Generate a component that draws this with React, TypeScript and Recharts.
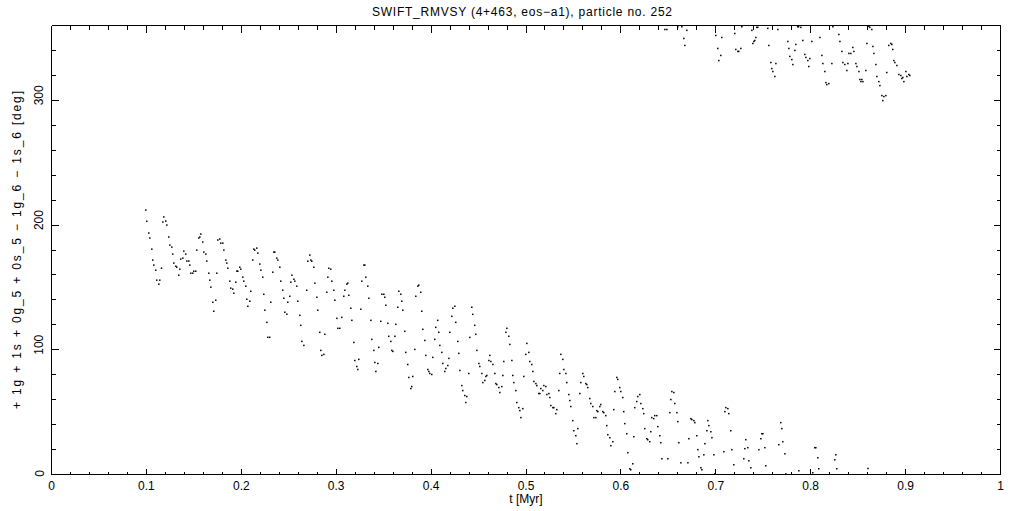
import React from 'react';
import { ScatterChart, Scatter, XAxis, YAxis } from 'recharts';

// [t (Myr), angle (deg)], grouped by region
const band1: [number, number][] = [
  [0.0994,212],[0.1004,203],[0.1025,193.6],[0.1036,189.6],[0.1057,180.7],[0.1067,171.9],[0.1078,167.9],[0.1099,163.8],[0.1109,155.8],[0.1131,152.6],[0.1141,155.8],[0.1159,165.4],[0.1173,202.4],[0.1183,206.5],[0.1204,203.2],[0.1215,200],[0.1236,190.4],[0.1247,183.9],[0.1268,182.3],[0.1278,176.7],[0.1289,169.5],[0.131,167],[0.132,166.2],[0.1341,159.8],[0.1352,164.6],[0.1362,172.7],[0.1384,173.5],[0.1394,179.1],[0.1415,176.7],[0.1426,171.1],[0.1447,171.1],[0.1457,167.9],[0.1468,161.4],[0.1489,161.4],[0.1499,163],[0.152,163],[0.1531,179.9],[0.1552,189.6],[0.1563,190.4],[0.1573,192.8],[0.1594,186.4],[0.1605,178.3],[0.1626,176.7],[0.1636,171.1],[0.1658,161.4],[0.1668,155.8],[0.1679,150.2],[0.17,138.1],[0.171,130.9],[0.1731,139.7],[0.1742,161.4],[0.1752,188],[0.1773,188.8],[0.1784,185.5],[0.1805,185.5],[0.1816,179.9],[0.1837,171.9],[0.1847,169.5],[0.1858,165.4],[0.1879,155],[0.1889,149.4],[0.191,148.6],[0.1921,145.3],[0.1942,154.2],[0.1953,163],[0.1963,163],[0.1984,166.2],[0.1995,164.6],[0.2016,158.2],[0.2026,155],[0.2047,151],[0.2058,140.5],[0.2069,134.9],[0.209,138.9],[0.21,146.9],[0.2121,171.9],[0.2132,180.7],[0.2142,179.9],[0.2163,181.5],[0.2174,177.5],[0.2195,168.7],[0.2206,163.8],[0.2226,158.2],[0.2237,144.5],[0.2248,131.7],[0.2269,122],[0.2279,110],[0.23,110],[0.2311,138.1],[0.2332,162.2],[0.2342,178.3],[0.2353,178.3],[0.2374,173.5],[0.2385,171.9],[0.2406,166.2],[0.2416,155],[0.2437,147.8],[0.2448,141.3],[0.2459,130.1],[0.248,128.5],[0.249,138.1],[0.2511,142.9],
];

const band2: [number, number][] = [
  [0.2522,154.2],[0.2533,159.8],[0.2554,156.6],[0.2564,155],[0.2585,151],[0.2595,138.9],[0.2617,127.6],[0.2627,119.6],[0.2638,106.7],[0.2659,103.5],[0.269,147.7],[0.2701,171],[0.2722,175.9],[0.2733,171.9],[0.2743,171],[0.2764,166.2],[0.2775,153.4],[0.2796,142.1],[0.2806,131.7],[0.2827,114],[0.2838,99.5],[0.2849,95.5],[0.287,96.3],[0.288,112.4],[0.2901,146.1],[0.2912,158.2],[0.2922,165.4],[0.2943,164.6],[0.2954,155],[0.2975,147.7],[0.2986,139.7],[0.3007,125.2],[0.3017,117.2],[0.3038,117.2],[0.3059,126],[0.308,142.9],[0.3091,147.7],[0.3112,152.6],[0.3122,153.4],[0.3133,143.7],[0.3154,133.3],[0.3165,123.6],[0.3186,105.9],[0.3196,91.4],[0.3217,86.6],[0.3228,84.2],[0.3238,92.3],[0.326,132.5],[0.327,155],[0.3291,167.9],[0.3302,167.9],[0.3312,158.2],[0.3333,151],[0.3344,141.3],[0.3365,123.6],[0.3375,108.3],[0.3397,99.5],[0.3407,89.8],[0.3418,82.6],[0.3439,89],[0.3449,101.9],[0.347,122.8],[0.3481,144.5],[0.3502,144.5],[0.3512,142.1],[0.3523,135.7],[0.3544,121.2],[0.3554,110.8],[0.3576,106.7],[0.3586,99.5],[0.3597,98.7],[0.3618,110.8],[0.3628,120.4],[0.3649,134.1],[0.366,146.9],[0.3681,144.5],[0.3691,138.9],[0.3702,131.7],[0.3723,114.8],[0.3733,97.9],[0.3754,88.2],[0.3765,77.8],[0.3786,68.9],[0.3796,70.5],[0.3807,78.6],[0.3828,100.3],[0.3839,142.9],[0.386,151],[0.387,151.8],[0.3891,146.1],[0.3902,130.9],[0.3913,116.4],[0.3934,107.5],[0.3944,95.5],[0.3965,84.2],[0.3976,82.6],[0.3986,81],[0.4007,80.2],[0.4018,93.9],[0.4039,108.3],[0.4049,118],[0.407,123.6],[0.4081,114],[0.4092,103.5],[0.4113,97.9],[0.4123,89],[0.4144,82.6],[0.4155,85],[0.4176,87.4],[0.4187,93.1],[0.4197,114],[0.4218,126.8],[0.4229,133.3],[0.425,134.9],[0.426,122],[0.4281,106.7],[0.4292,97.1],[0.4303,83.4],[0.4324,71.3],[0.4334,67.3],[0.4355,63.3],[0.4366,57.7],[0.4376,62.5],[0.4397,81],[0.4408,109.9],[0.4429,134.1],[0.4439,128.4],[0.446,119.6],[0.4471,112.4],[0.4482,99.5],[0.4503,89],[0.4513,86.6],
];

const band3: [number, number][] = [
  [0.4535,81],[0.4545,73.7],[0.4566,75.4],[0.4577,78.6],[0.4587,79.4],[0.4609,91.4],[0.4619,95.5],[0.463,90.6],[0.4651,88.2],[0.4672,81],[0.4682,72.9],[0.4693,72.1],[0.4714,69.7],[0.4724,65.7],[0.4745,70.5],[0.4756,79.4],[0.4766,90.6],[0.4788,114],[0.4798,117.2],[0.4819,110.8],[0.483,104.3],[0.4851,91.4],[0.4861,79.4],[0.4872,73.7],[0.4893,67.3],[0.4903,57.7],[0.4924,53.6],[0.4935,51.2],[0.4946,45.6],[0.4967,52.8],[0.4977,78.6],[0.4998,96.3],[0.5009,105.1],[0.503,97.9],[0.504,90.6],[0.5061,88.2],[0.5072,82.6],[0.5083,74.6],[0.5104,72.9],[0.5114,71.3],[0.5135,64.9],[0.5146,64.9],[0.5156,68.9],[0.5177,67.3],[0.5188,71.3],[0.5209,70.5],[0.522,64.1],[0.5241,64.9],[0.5251,61.7],[0.5262,55.3],[0.5283,53.6],[0.5293,53.6],[0.5314,48.8],[0.5325,52],[0.5346,67.3],[0.5356,81],[0.5367,96.3],[0.5388,92.3],[0.5399,84.2],[0.542,81],[0.543,73.7],[0.5451,64.1],[0.5462,59.3],[0.5472,54.5],[0.5493,43.2],[0.5504,35.1],[0.5525,31.1],[0.5536,24.7],[0.5546,36.8],[0.5567,64.9],[0.5578,73.7],[0.5599,81],[0.5609,78.6],[0.563,72.9],[0.5641,72.1],[0.5651,69.7],[0.5672,60.9],[0.5683,56.9],[0.5704,54.5],[0.5715,45.6],[0.5736,45.6],[0.5746,51.2],[0.5757,50.4],[0.5778,54.5],[0.5788,56.1],[0.5809,50.4],[0.582,49.6],[0.5841,47.2],[0.5851,39.2],[0.5862,31.9],[0.5883,29.5],[0.5894,23.1],[0.5915,26.3],[0.5925,52],[0.5936,66.5],[0.5957,77.8],[0.5967,76.2],[0.5988,69.7],[0.5999,66.5],[0.602,61.7],[0.603,50.4],[0.6041,40.8],[0.6062,32.7],[0.6073,17.5],[0.6094,4.6],[0.6104,3.8],[0.6125,8.6],[0.6136,30.3],[0.6146,53.6],[0.6167,58.5],[0.6178,62.5],[0.6199,64.1],[0.621,56.9],[0.6231,52.8],[0.6241,48.8],[0.6252,36.8],[0.6273,28.7],[0.6283,27.9],[0.6304,26.3],[0.6315,34.3],[0.6325,45.6],[0.6346,44.8],[0.6357,47.2],[0.6378,47.2],[0.6389,38.4],[0.641,31.1],
];

const band4: [number, number][] = [
  [0.6421,25.5],[0.6432,12.6],[0.6495,12.6],[0.6516,49.6],[0.6526,60.1],[0.6537,66.5],[0.6558,65.7],[0.6568,56.9],[0.659,49.6],[0.66,42.4],[0.6611,25.5],[0.6632,9.4],[0.6706,9.4],[0.6716,28.7],[0.6737,44.8],[0.6748,44],[0.6769,43.2],[0.6779,41.6],[0.68,31.1],[0.6811,19.9],[0.6822,14.2],[0.6843,5.4],[0.6853,3.8],[0.6874,15.8],[0.6885,24.7],[0.6906,35.1],[0.6916,43.2],[0.6927,39.2],[0.6948,34.3],[0.6959,29.5],[0.698,15.8],[0.699,0.5],[0.7085,18.3],[0.7095,50.4],[0.7106,53.6],[0.7127,52.8],[0.7137,48.8],[0.7158,35.1],[0.7169,19.9],[0.719,7.8],[0.7295,12.6],[0.7306,20.7],[0.7316,27.9],[0.7338,21.5],[0.7348,11],[0.7369,5.4],[0.7454,19.9],[0.7475,28.7],[0.7485,32.7],[0.7496,32.7],[0.7517,21.5],[0.7527,7],[0.7664,23.9],[0.7685,41.6],[0.7696,36.8],[0.7706,26.3],[0.7728,16.6],[0.7738,0.5],[0.7875,3],[0.8022,1.4],[0.8043,21.5],[0.8054,21.5],[0.8075,13.4],[0.8085,4.6],[0.8254,11.8],[0.8265,15.8],[0.8275,4.6],[0.8603,4.8],
];

const topBand: [number, number][] = [
  [0.6463,356.8],[0.6484,356.8],[0.66,359],[0.6642,359],[0.6663,349.6],[0.6674,344],[0.6695,356.1],[0.7,352],[0.7021,341.6],[0.7032,331.9],[0.7053,336],[0.7063,350.4],[0.72,353.6],[0.7211,340.8],[0.7232,339.2],[0.7242,339.2],[0.7264,341.6],[0.7274,359],[0.738,356.1],[0.739,345.6],[0.7401,347.2],[0.7411,348],[0.7422,350.4],[0.7432,358.5],[0.7443,358.5],[0.7548,357.7],[0.7559,344],[0.758,330.3],[0.759,325.5],[0.7601,323.1],[0.7622,319.1],[0.7633,329.5],[0.7654,356.8],[0.7759,347.2],[0.777,341.6],[0.778,335.2],[0.7801,332.7],[0.7812,328.7],[0.7833,340],[0.7843,344.8],[0.7864,359],[0.7872,359],[0.7896,358.5],[0.7917,348],[0.7938,336.8],[0.7949,334.4],[0.797,331.9],[0.798,327.1],[0.7991,333.5],[0.8012,347.2],[0.8097,350.4],[0.8118,336],[0.8128,329.5],[0.8149,323.1],[0.816,314.2],[0.817,312.6],[0.8191,313.4],[0.8223,329.5],[0.8234,359],[0.8297,352.8],[0.8308,347.2],[0.8329,339.2],[0.8339,330.3],[0.836,328.7],[0.8381,323.9],[0.8392,329.5],[0.8402,337.6],[0.8423,337.6],[0.8444,342.4],[0.8455,339.2],[0.8476,329.5],[0.8487,327.1],[0.8508,323.1],[0.8518,316.7],[0.8529,315],[0.8539,316.7],[0.855,315],[0.8581,323.9],[0.8592,345.6],[0.8613,359.3],[0.8624,358.5],[0.8644,356.8],[0.8655,343.2],[0.8666,337.6],[0.8687,328.7],[0.8697,319.1],[0.8718,315],[0.8729,311.8],[0.875,303.8],[0.876,299.8],[0.8771,303],[0.8792,303.8],[0.8802,322.3],[0.8823,344],[0.8844,345.6],[0.8855,344.8],[0.8865,340.8],[0.8876,331.9],[0.8887,330.3],[0.8908,327.9],[0.8929,320.7],[0.895,319.9],[0.896,317.5],[0.8971,318.3],[0.8982,315],[0.9003,323.1],[0.9013,319.1],[0.9034,320.7],[0.9045,319.9],
];

const xTickLabels = ['0', '0.1', '0.2', '0.3', '0.4', '0.5', '0.6', '0.7', '0.8', '0.9', '1'];
const yTickLabels = ['0', '100', '200', '300'];

const titleText = 'SWIFT_RMVSY (4+463, eos\u2212a1), particle no. 252';
const xLabelText = 't [Myr]';
const yLabelText = '+ 1g + 1s + 0g_5 + 0s_5 \u2212 1g_6 \u2212 1s_6 [deg]';

const points = [...band1, ...band2, ...band3, ...band4, ...topBand].map(([t, deg]) => ({ t, deg }));

const xTicks = Array.from({ length: 51 }, (_, i) => i / 50);
const yTicks = Array.from({ length: 19 }, (_, i) => i * 20);

const FONT = '"Liberation Sans", Arial, sans-serif';
const INK = '#000';

const BottomTick = (props: any) => {
  const { x, y, index } = props;
  const major = index % 5 === 0;
  return (
    <g>
      <line x1={x} y1={y} x2={x} y2={y - (major ? 6 : 3)} stroke={INK} shapeRendering="crispEdges" />
      {major && (
        <text x={x} y={y + 15} textAnchor="middle" fontSize={12} fontFamily={FONT} fill={INK}>
          {xTickLabels[index / 5]}
        </text>
      )}
    </g>
  );
};

const TopTick = (props: any) => {
  const { x, y, index } = props;
  const major = index % 5 === 0;
  return <line x1={x} y1={y} x2={x} y2={y + (major ? 7 : 4)} stroke={INK} shapeRendering="crispEdges" />;
};

const LeftTick = (props: any) => {
  const { x, y, index } = props;
  const major = index % 5 === 0;
  const lx = x - 8;
  const ly = index === 0 ? y - 1 : y - 5;
  return (
    <g>
      <line x1={x} y1={y} x2={x + (major ? 7 : 4)} y2={y} stroke={INK} shapeRendering="crispEdges" />
      {major && (
        <text
          x={lx}
          y={ly}
          transform={`rotate(-90, ${lx}, ${ly})`}
          textAnchor="middle"
          fontSize={12}
          fontFamily={FONT}
          fill={INK}
        >
          {yTickLabels[index / 5]}
        </text>
      )}
    </g>
  );
};

const RightTick = (props: any) => {
  const { x, y, index } = props;
  const major = index % 5 === 0;
  return <line x1={x} y1={y} x2={x - (major ? 7 : 4)} y2={y} stroke={INK} shapeRendering="crispEdges" />;
};

const Dot = (props: any) => {
  const { cx, cy } = props;
  if (cx == null || cy == null) return null;
  return <rect x={cx - 0.75} y={cy - 0.75} width={1.5} height={1.5} fill={INK} />;
};

const axisLineStyle = { stroke: INK, shapeRendering: 'crispEdges' } as any;

export default function App() {
  return (
    <div style={{ position: 'absolute', left: 0, top: 0, width: 1021, height: 511, background: '#fff' }}>
      <ScatterChart width={1021} height={511} margin={{ top: 24.5, right: 19.5, bottom: 35.5, left: 50.5 }}>
        <XAxis
          xAxisId="bottom"
          type="number"
          dataKey="t"
          orientation="bottom"
          domain={[0, 1]}
          ticks={xTicks}
          interval={0}
          allowDataOverflow
          height={1}
          tickSize={0}
          tickMargin={0}
          tickLine={false}
          axisLine={axisLineStyle}
          tick={BottomTick}
        />
        <XAxis
          xAxisId="top"
          type="number"
          dataKey="t"
          orientation="top"
          domain={[0, 1]}
          ticks={xTicks}
          interval={0}
          allowDataOverflow
          height={1}
          tickSize={0}
          tickMargin={0}
          tickLine={false}
          axisLine={axisLineStyle}
          tick={TopTick}
        />
        <YAxis
          yAxisId="left"
          type="number"
          dataKey="deg"
          orientation="left"
          domain={[0, 360]}
          ticks={yTicks}
          interval={0}
          allowDataOverflow
          width={1}
          tickSize={0}
          tickMargin={0}
          tickLine={false}
          axisLine={axisLineStyle}
          tick={LeftTick}
        />
        <YAxis
          yAxisId="right"
          type="number"
          dataKey="deg"
          orientation="right"
          domain={[0, 360]}
          ticks={yTicks}
          interval={0}
          allowDataOverflow
          width={1}
          tickSize={0}
          tickMargin={0}
          tickLine={false}
          axisLine={axisLineStyle}
          tick={RightTick}
        />
        <Scatter
          data={points}
          xAxisId="bottom"
          yAxisId="left"
          shape={Dot}
          isAnimationActive={false}
        />
        <Scatter
          data={[] as any[]}
          xAxisId="top"
          yAxisId="right"
          shape={Dot}
          isAnimationActive={false}
        />
        <text
          x={522}
          y={15.5}
          textAnchor="middle"
          fontSize={12}
          fontFamily={FONT}
          fill={INK}
          textLength={300}
          lengthAdjust="spacing"
        >
          {titleText}
        </text>
        <text x={526} y={503} textAnchor="middle" fontSize={12} fontFamily={FONT} fill={INK}>
          {xLabelText}
        </text>
        <text
          x={20.7}
          y={250}
          transform="rotate(-90, 20.7, 250)"
          textAnchor="middle"
          fontSize={12}
          fontFamily={FONT}
          fill={INK}
          textLength={318}
          lengthAdjust="spacing"
        >
          {yLabelText}
        </text>
      </ScatterChart>
    </div>
  );
}
